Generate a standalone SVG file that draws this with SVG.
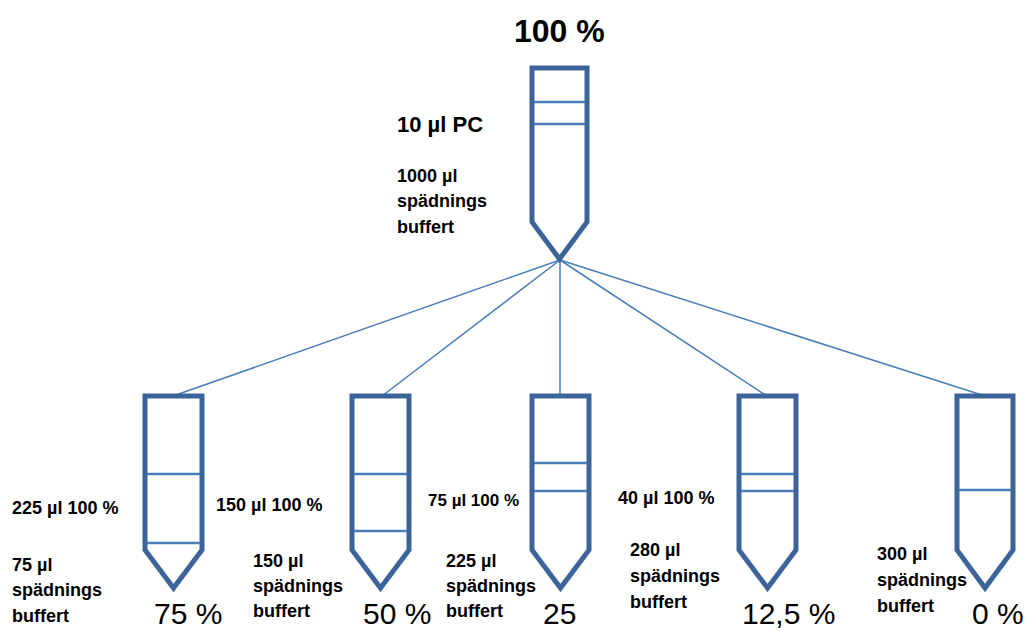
<svg xmlns="http://www.w3.org/2000/svg" width="1028" height="631" viewBox="0 0 1028 631">
<style>
.tube{fill:#ffffff;stroke:#3d6499;stroke-width:5;stroke-linejoin:miter}
.mark{stroke:#4a7ebb;stroke-width:2.5}
.conn{stroke:#4a7ebb;stroke-width:1.5;fill:none}
.b{font-family:"Liberation Sans",Arial,sans-serif;font-weight:bold;fill:#000}
.pct{font-family:"Liberation Sans",Arial,sans-serif;font-size:30px;fill:#000}
</style>
<rect width="1028" height="631" fill="#ffffff"/>
<g id="connectors">
<line class="conn" x1="560" y1="260" x2="173" y2="396"/>
<line class="conn" x1="560" y1="260" x2="382" y2="396"/>
<line class="conn" x1="560" y1="260" x2="560" y2="396"/>
<line class="conn" x1="560" y1="260" x2="767" y2="396"/>
<line class="conn" x1="560" y1="260" x2="985" y2="396"/>
</g>
<g id="tube-top">
<path class="tube" d="M532,68 L587,68 L587,222 L559.5,259 L532,222 Z"/>
<line class="mark" x1="534" y1="102" x2="585" y2="102"/>
<line class="mark" x1="534" y1="124" x2="585" y2="124"/>
<text class="b" x="514" y="42" font-size="32">100 %</text>
<text class="b" x="397" y="132" font-size="22">10 µl PC</text>
<text class="b" x="397" y="182" font-size="18">1000 µl</text>
<text class="b" x="397" y="207" font-size="18">spädnings</text>
<text class="b" x="397" y="233" font-size="18">buffert</text>
</g>
<g id="tube-75">
<path class="tube" d="M145,396 L202,396 L202,550 L173.5,588 L145,550 Z"/>
<line class="mark" x1="147" y1="474" x2="200" y2="474"/>
<line class="mark" x1="147" y1="543" x2="200" y2="543"/>
<text class="b" x="12" y="514" font-size="18">225 µl 100 %</text>
<text class="b" x="12" y="571" font-size="18">75 µl</text>
<text class="b" x="12" y="596" font-size="18">spädnings</text>
<text class="b" x="12" y="622" font-size="18">buffert</text>
<text class="pct" x="154" y="624">75 %</text>
</g>
<g id="tube-50">
<path class="tube" d="M352,396 L409,396 L409,550 L380.5,588 L352,550 Z"/>
<line class="mark" x1="354" y1="474" x2="407" y2="474"/>
<line class="mark" x1="354" y1="531" x2="407" y2="531"/>
<text class="b" x="216" y="511" font-size="18">150 µl 100 %</text>
<text class="b" x="253" y="567" font-size="18">150 µl</text>
<text class="b" x="253" y="592" font-size="18">spädnings</text>
<text class="b" x="253" y="617" font-size="18">buffert</text>
<text class="pct" x="363" y="624">50 %</text>
</g>
<g id="tube-25">
<path class="tube" d="M532,396 L589,396 L589,550 L560.5,588 L532,550 Z"/>
<line class="mark" x1="534" y1="463" x2="587" y2="463"/>
<line class="mark" x1="534" y1="491" x2="587" y2="491"/>
<text class="b" x="428" y="506" font-size="17">75 µl 100 %</text>
<text class="b" x="446" y="567" font-size="18">225 µl</text>
<text class="b" x="446" y="592" font-size="18">spädnings</text>
<text class="b" x="446" y="617" font-size="18">buffert</text>
<text class="pct" x="543" y="624">25</text>
</g>
<g id="tube-12-5">
<path class="tube" d="M739,396 L796,396 L796,550 L767.5,588 L739,550 Z"/>
<line class="mark" x1="741" y1="474" x2="794" y2="474"/>
<line class="mark" x1="741" y1="491" x2="794" y2="491"/>
<text class="b" x="618" y="504" font-size="18">40 µl 100 %</text>
<text class="b" x="630" y="556" font-size="18">280 µl</text>
<text class="b" x="630" y="582" font-size="18">spädnings</text>
<text class="b" x="630" y="608" font-size="18">buffert</text>
<text class="pct" x="742" y="624">12,5 %</text>
</g>
<g id="tube-0">
<path class="tube" d="M957,396 L1013,396 L1013,550 L985,588 L957,550 Z"/>
<line class="mark" x1="959" y1="490" x2="1011" y2="490"/>
<text class="b" x="877" y="560" font-size="18">300 µl</text>
<text class="b" x="877" y="586" font-size="18">spädnings</text>
<text class="b" x="877" y="612" font-size="18">buffert</text>
<text class="pct" x="972" y="624">0 %</text>
</g>
</svg>
